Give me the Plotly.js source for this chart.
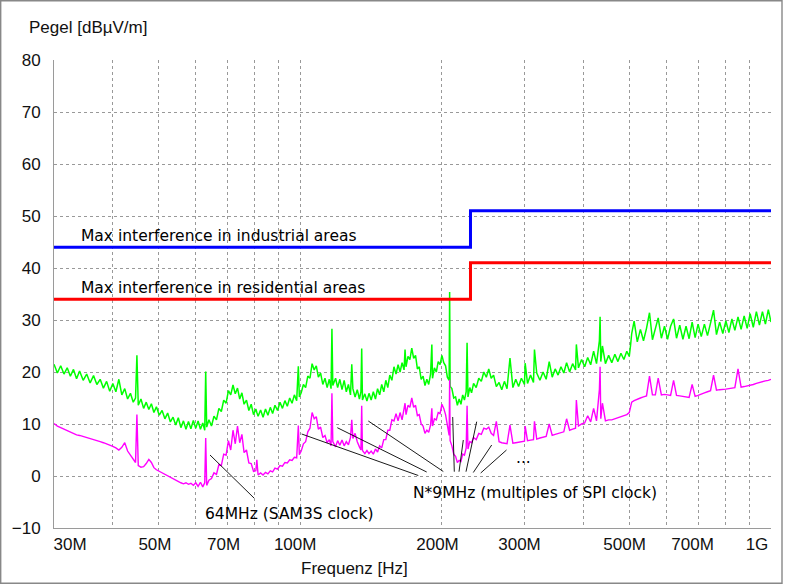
<!DOCTYPE html>
<html><head><meta charset="utf-8">
<script src="https://cdn.plot.ly/plotly-3.0.1.min.js"></script>
<style>html,body{margin:0;padding:0;background:#fff}#chart{width:786px;height:584px}</style>
</head><body><div id="chart"></div>
<script>
// Measurement frequencies (MHz)
const freqMHz = [
30.0,30.5,31.0,31.5,32.0,32.5,33.0,33.5,34.0,34.6,35.2,35.8,36.4,37.0,37.6,38.2,38.8,39.4,40.0,40.6,41.2,41.8,42.4,43.0,43.6,44.2,44.7,45.0,45.3,45.9,
46.5,47.1,47.7,48.3,48.9,49.5,50.2,50.9,51.6,52.3,53.0,53.7,54.4,55.1,55.8,56.5,57.2,57.9,58.6,59.3,60.0,60.7,61.4,62.1,62.7,63.0,63.3,64.0,
64.8,65.6,66.4,67.2,68.0,68.8,69.6,70.4,71.2,72.0,72.8,73.6,74.4,75.2,76.0,76.9,77.8,78.7,79.6,80.5,80.9,81.4,82.4,83.4,84.4,85.4,86.4,87.4,88.4,89.5,90.6,91.7,92.8,93.9,95.0,96.1,97.2,98.3,99.1,99.6,
100.5,101.6,102.7,103.8,104.9,106.0,107.1,108.2,109.3,110.5,111.7,112.9,114.1,115.3,116.3,116.8,117.3,118.9,120.1,121.4,122.7,124.0,125.3,126.6,127.9,128.7,129.4,130.8,132.2,133.6,134.6,135.1,135.6,137.2,138.6,140.0,
141.5,143.0,144.5,146.0,147.5,149.0,150.5,152.0,153.5,155.0,156.6,158.2,159.8,161.4,163.0,164.6,166.2,167.0,167.8,169.4,171.0,172.6,174.2,175.8,177.4,179.0,180.7,182.4,184.1,185.8,187.5,189.2,190.4,191.0,192.8,194.6,196.4,198.2,200.0,201.8,203.6,205.4,207.2,207.7,208.2,210.0,211.9,213.8,215.7,217.6,219.5,221.4,223.3,225.2,226.2,227.2,229.2,231.2,
233.5,236.5,239.5,242.5,245.5,248.5,251.5,254.5,257.5,261.0,264.5,268.0,271.5,275.0,279.0,283.0,287.0,291.0,295.0,299.5,300.5,304.0,308.5,313.0,314.5,318.0,323.0,328.0,333.0,338.0,343.0,348.0,353.0,358.0,363.0,368.0,373.5,379.0,384.5,386.0,390.0,396.0,402.0,408.0,414.0,420.0,426.0,432.0,433.5,435.0,438.5,445.0,452.0,459.0,466.0,473.0,480.0,487.0,494.0,500.0,
503,506,512,520,528,536,544,552,560,568,576,585,594,603,612,621,630,640,650,660,670,680,690,700,711,722,733,744,755,766,778,790,802,814,826,838,851,864,877,890,903,917,931,945,959,973,987,1000
];
// Green trace (dBuV/m)
const greenLevel = [
21.5,19.8,21.2,19.6,20.8,19.2,20.5,18.7,20.2,18.4,19.6,17.9,19.3,17.6,18.6,16.9,18.2,16.3,17.8,16.2,18.6,15.6,16.8,14.8,15.9,14.2,15.0,23.2,13.6,14.8,
13.0,14.2,12.8,13.9,12.2,13.3,11.7,12.6,11.0,12.1,10.4,11.3,9.8,11.2,9.3,10.6,9.0,10.5,9.1,10.7,9.2,10.6,9.0,10.2,8.8,20.1,9.4,10.8,
9.6,11.5,10.8,13.0,12.4,14.6,14.0,16.4,15.6,17.5,15.8,16.9,14.8,16.0,13.8,14.6,12.6,13.8,11.8,12.9,12.2,11.5,12.7,11.3,12.9,11.7,13.2,12.0,13.6,12.6,14.2,13.0,14.5,13.4,15.0,14.0,15.6,14.5,21.1,15.2,
16.0,17.6,17.0,19.2,18.8,21.6,20.4,21.2,19.0,19.8,17.6,18.8,17.0,18.6,16.8,28.3,17.4,18.8,17.0,18.6,16.6,18.4,16.2,17.6,15.6,21.5,16.8,15.2,16.6,14.8,16.2,24.5,14.6,15.8,14.4,15.9,
14.6,16.2,14.8,16.8,15.6,17.6,16.2,18.4,17.0,19.4,18.4,21.0,19.6,21.4,20.0,21.8,20.4,24.3,21.0,23.0,22.4,24.6,22.6,23.2,20.6,21.0,18.6,19.2,17.4,18.6,17.6,19.6,25.3,18.8,20.8,20.0,22.0,21.4,23.2,21.8,21.2,19.0,18.4,35.4,17.2,16.8,15.0,15.2,13.6,14.8,13.8,15.6,14.6,16.2,25.6,15.2,17.0,16.0,
17.8,17.0,18.8,18.2,20.0,19.0,20.6,18.8,19.4,17.2,18.0,16.6,18.2,16.8,22.7,17.0,18.6,17.2,18.8,17.6,21.7,17.8,19.4,18.0,24.3,19.8,18.4,20.0,18.6,22.0,19.0,20.6,19.4,21.0,19.8,21.8,20.0,21.6,20.4,25.3,20.8,22.4,21.0,22.8,21.4,24.0,21.6,26.0,30.6,22.0,25.0,21.6,23.2,21.8,23.4,22.0,23.6,22.4,24.0,23.0,
25.0,27.4,29.8,25.8,28.2,26.0,28.4,31.4,26.2,28.6,30.4,26.5,28.8,26.3,28.8,30.2,26.5,29.0,26.3,28.8,26.4,29.6,26.6,29.2,26.8,29.2,27.0,29.4,31.9,27.2,29.6,27.4,29.8,27.6,30.2,28.0,30.6,28.2,30.8,28.4,31.2,28.6,31.6,29.0,31.6,29.2,32.0,29.6
];
// Magenta trace (dBuV/m)
const magentaLevel = [
10.1,9.6,9.3,9.0,8.7,8.4,8.2,7.9,7.8,7.6,7.5,7.2,7.0,6.8,6.6,6.4,6.2,6.0,5.7,5.4,5.0,5.5,6.4,4.8,4.0,3.4,2.6,11.8,2.0,1.7,
1.8,2.4,3.2,2.6,1.6,1.2,0.9,0.6,0.3,0.1,-0.3,-0.5,-0.8,-1.1,-1.3,-1.5,-1.3,-1.6,-1.4,-1.8,-1.3,-2.0,-1.2,-2.1,-1.3,7.3,-1.8,-0.8,
-0.5,0.6,0.3,2.2,2.0,4.2,4.0,6.8,5.0,8.8,6.2,9.6,6.4,8.0,4.5,5.0,2.5,2.4,0.9,1.0,3.1,0.2,0.6,0.2,0.7,0.4,1.0,0.8,1.5,1.3,2.0,1.9,2.6,2.5,3.1,3.0,3.6,3.5,9.7,4.1,
4.8,6.2,6.6,8.5,9.2,12.2,11.0,11.4,9.0,9.4,7.4,7.8,6.4,7.0,5.8,15.9,6.6,5.6,6.8,5.9,6.9,5.8,6.6,6.0,7.4,10.8,7.2,8.2,6.6,5.6,5.0,13.5,4.9,4.3,4.9,4.3,
4.8,4.2,5.2,4.6,5.8,5.4,7.0,7.0,8.8,8.8,10.8,10.6,12.0,10.6,12.2,10.8,12.6,14.0,11.8,13.6,13.2,15.0,13.2,13.6,11.6,11.8,10.0,9.6,8.2,8.8,8.4,9.8,13.0,9.6,11.0,10.8,12.2,12.0,13.8,13.0,11.8,9.6,7.8,18.5,6.8,5.8,4.2,3.8,2.6,3.0,2.8,4.2,4.0,5.4,13.5,5.2,6.6,6.4,
7.4,7.0,8.2,8.0,9.2,9.0,9.4,8.2,7.8,10.5,6.6,6.4,6.3,6.2,9.8,6.3,6.4,6.5,6.6,6.7,9.6,6.8,6.9,7.0,10.5,7.1,7.3,7.4,7.6,10.0,7.8,8.0,8.2,8.4,8.5,11.0,8.8,9.0,9.2,14.6,9.6,10.0,10.2,11.6,10.4,13.0,10.6,16.6,21.0,11.0,14.0,10.6,10.8,10.8,11.0,11.2,11.4,11.6,11.8,12.2,
13.0,14.2,14.5,14.8,15.0,15.2,15.4,19.2,15.6,15.6,18.8,15.6,15.7,15.6,15.5,18.4,15.5,15.4,15.3,15.2,15.1,17.6,15.3,15.5,15.8,16.0,16.2,16.4,19.4,16.5,16.6,16.6,16.7,16.8,16.9,17.0,20.6,17.1,17.2,17.3,17.4,17.6,17.8,18.0,18.1,18.3,18.4,18.6
];
// Limit lines
const limitFreq = [30, 230, 1000];
const industrialLimit = [44, 51, 51];
const residentialLimit = [34, 41, 41];
const industrialLabel = 'Max interference in industrial areas';
const residentialLabel = 'Max interference in residential areas';
// Axes
const xMin = 30, xMax = 1000;
const gridFreq = [30,40,50,60,70,80,90,100,200,300,400,500,600,700,800,900,1000];
const tickFreq = [30,50,70,100,200,300,500,700,1000];
const tickText = ['30M','50M','70M','100M','200M','300M','500M','700M','1G'];
const yTicks = [-10,0,10,20,30,40,50,60,70,80];

// ---- layout geometry (style) ----
const M = {l:54, r:15, t:60, b:56};
const W = 786, H = 584;
const PW = W - M.l - M.r, PH = H - M.t - M.b;
const pxPerDecade = PW / (Math.log10(xMax) - Math.log10(xMin));
const labelShiftPx = [16,-3.5,-3.7,-5,-4.4,-5.3,-4.7,-5.5,-14];
const labelPos = tickFreq.map((f,i) => f * Math.pow(10, labelShiftPx[i] / pxPerDecade));
const fx = px => (px - M.l) / PW;
const fy = py => (M.t + PH - py) / PH;

const FONT_AX = 'Liberation Sans, Arial, sans-serif';
const FONT_TX = 'DejaVu Sans, sans-serif';

const traces = [
  {x: freqMHz, y: greenLevel, type:'scatter', mode:'lines', line:{color:'#00ff00', width:1.5}, hoverinfo:'skip'},
  {x: freqMHz, y: magentaLevel, type:'scatter', mode:'lines', line:{color:'#ff00ff', width:1.4}, hoverinfo:'skip'},
  {x: limitFreq, y: industrialLimit, type:'scatter', mode:'lines', line:{color:'#0000ff', width:3, shape:'hv'}},
  {x: limitFreq, y: residentialLimit, type:'scatter', mode:'lines', line:{color:'#ff0000', width:3, shape:'hv'}},
  {x: [], y: [], xaxis:'x2', type:'scatter', mode:'lines'}
];

const leaderLines = [
  [210,455,254,498],
  [301.7,434,418.3,475.5],[337.3,427.7,426.7,472],[368.3,421,443.3,471.5],
  [452.7,417,454.3,471.7],[463.3,440,459,471.7],[476.7,421.7,466,471.7],
  [491.7,445,473.3,472.5],[506.5,450,480.7,473]
];
const shapes = leaderLines.map(s => ({type:'line', xref:'paper', yref:'paper',
  x0:fx(s[0]), y0:fy(s[1]), x1:fx(s[2]), y1:fy(s[3]), line:{color:'#000', width:0.9}}));
shapes.push({type:'rect', xref:'paper', yref:'paper', x0:fx(0.7), y0:fy(0.7), x1:fx(782), y1:fy(583.3),
  line:{color:'#888', width:1.4}, layer:'below'});

const annotations = [
  {text:industrialLabel, xref:'paper', yref:'y', x:fx(79), y:46.15, xanchor:'left', yanchor:'middle', showarrow:false, font:{family:FONT_TX, size:15.5, color:'#000'}},
  {text:residentialLabel, xref:'paper', yref:'y', x:fx(79), y:36.15, xanchor:'left', yanchor:'middle', showarrow:false, font:{family:FONT_TX, size:15.5, color:'#000'}},
  {text:'64MHz (SAM3S clock)', xref:'paper', yref:'paper', x:fx(288.5), y:fy(514), xanchor:'center', yanchor:'middle', showarrow:false, font:{family:FONT_TX, size:15.5, color:'#000'}},
  {text:'N*9MHz (multiples of SPI clock)', xref:'paper', yref:'paper', x:fx(535), y:fy(493), xanchor:'center', yanchor:'middle', showarrow:false, font:{family:FONT_TX, size:15.5, color:'#000'}},
  {text:'...', xref:'paper', yref:'paper', x:fx(523), y:fy(458), xanchor:'center', yanchor:'middle', showarrow:false, font:{family:FONT_TX, size:15.5, color:'#000'}},
  {text:'Pegel [dBµV/m]', xref:'paper', yref:'paper', x:fx(26.7), y:fy(27), xanchor:'left', yanchor:'middle', showarrow:false, font:{family:FONT_AX, size:17, color:'#111'}},
  {text:'Frequenz [Hz]', xref:'paper', yref:'paper', x:fx(354), y:fy(568), xanchor:'center', yanchor:'middle', showarrow:false, font:{family:FONT_AX, size:17, color:'#111'}}
];

const logRange = [Math.log10(xMin), Math.log10(xMax)];
const layout = {
  width:W, height:H, margin:M, showlegend:false,
  paper_bgcolor:'#fff', plot_bgcolor:'#fff',
  xaxis:{type:'log', range:logRange, tickmode:'array', tickvals:gridFreq, showticklabels:false, ticks:'',
    showgrid:true, gridcolor:'#999', griddash:'dot', gridwidth:1, showline:true, linecolor:'#9a9a9a', linewidth:1, zeroline:false, fixedrange:true},
  xaxis2:{type:'log', range:logRange, overlaying:'x', anchor:'y', side:'bottom', tickmode:'array', tickvals:labelPos, ticktext:tickText,
    showgrid:false, showline:false, zeroline:false, ticks:'', ticklabelstandoff:4, tickfont:{family:FONT_AX, size:17, color:'#111'}},
  yaxis:{range:[-10,80], tickmode:'array', tickvals:yTicks, showgrid:true, gridcolor:'#999', griddash:'dot', gridwidth:1,
    showline:true, linecolor:'#9a9a9a', linewidth:1, zeroline:false, ticks:'', ticklabelstandoff:9,
    tickfont:{family:FONT_AX, size:17, color:'#111'}},
  shapes: shapes,
  annotations: annotations
};
Plotly.newPlot('chart', traces, layout, {staticPlot:true, displayModeBar:false});
</script>
</body></html>
